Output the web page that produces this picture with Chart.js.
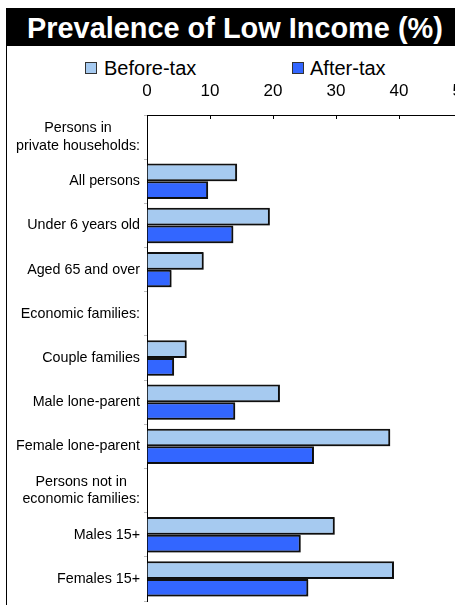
<!DOCTYPE html>
<html>
<head>
<meta charset="utf-8">
<script src="https://cdn.jsdelivr.net/npm/chart.js@4"></script>
<style>
  html,body{margin:0;padding:0;background:#fff;overflow:hidden;}
  #wrap{position:absolute;left:0;top:0;width:455px;height:605px;overflow:hidden;background:#fff;}
  #title{position:absolute;left:6px;top:8px;width:470px;height:38px;background:#000;}
  #title span{position:absolute;left:21px;top:6px;color:#fff;font:bold 28.9px Arial,"Liberation Sans",sans-serif;line-height:1;white-space:nowrap;}
  #frame{position:absolute;left:6px;top:8px;width:1px;height:600px;background:#000;}
  .lg{position:absolute;top:58px;font:20px Arial,"Liberation Sans",sans-serif;line-height:1;color:#000;white-space:nowrap;}
  .box{position:absolute;top:62px;width:10px;height:10px;border:1px solid #333;}
  #cw{position:absolute;left:0;top:46px;width:485px;height:559px;}
</style>
</head>
<body>
<div id="wrap">
  <div id="frame"></div>
  <div id="title"><span>Prevalence of Low Income (%)</span></div>
  <div class="box" id="b1" style="left:85px;"></div>
  <div class="lg" id="l1" style="left:104px;"></div>
  <div class="box" id="b2" style="left:292px;"></div>
  <div class="lg" id="l2" style="left:310px;"></div>
  <div id="cw"><canvas id="c" width="485" height="559"></canvas></div>
</div>
<script>
const categories = [
  ["Persons in", "private households:"],
  "All persons",
  "Under 6 years old",
  "Aged 65 and over",
  "Economic families:",
  "Couple families",
  "Male lone-parent",
  "Female lone-parent",
  ["Persons not in", "economic families:"],
  "Males 15+",
  "Females 15+"
];
const seriesNames = ["Before-tax", "After-tax"];
const beforeTax = [null, 14.3, 19.5, 9.0, null, 6.3, 21.1, 38.6, null, 29.8, 39.2];
const afterTax  = [null, 9.7, 13.7, 3.9, null, 4.3, 14.0, 26.5, null, 24.4, 25.6];
const xTicks = [0, 10, 20, 30, 40, 50];

const colors = ["#A6CAF0", "#3366FF"];
const FONT = 'Arial, "Liberation Sans", sans-serif';

document.getElementById('l1').textContent = seriesNames[0];
document.getElementById('l2').textContent = seriesNames[1];
document.getElementById('b1').style.background = colors[0];
document.getElementById('b2').style.background = colors[1];

const yLabelPlugin = {
  id: 'yLabels',
  afterDraw(chart) {
    const ctx = chart.ctx;
    const ys = chart.scales.y;
    const right = chart.chartArea.left - 7;
    ctx.save();
    ctx.font = '14.3px ' + FONT;
    ctx.fillStyle = '#000';
    ctx.textBaseline = 'middle';
    ctx.textAlign = 'center';
    const lh = 17.7;
    chart.data.labels.forEach((lab, i) => {
      const lines = Array.isArray(lab) ? lab : [lab];
      const y = ys.getPixelForValue(i);
      let maxW = 0;
      lines.forEach(l => { maxW = Math.max(maxW, ctx.measureText(l).width); });
      const cx = right - maxW / 2;
      const y0 = y - (lines.length - 1) * lh / 2;
      lines.forEach((l, k) => ctx.fillText(l, cx, y0 + k * lh));
    });
    // small inner tick marks on the top axis
    const xs = chart.scales.x;
    ctx.strokeStyle = '#000';
    ctx.lineWidth = 1;
    xTicks.forEach(v => {
      if (v === 0) return;
      const x = Math.round(xs.getPixelForValue(v)) + 0.5;
      ctx.beginPath();
      ctx.moveTo(x, chart.chartArea.top);
      ctx.lineTo(x, chart.chartArea.top + 4);
      ctx.stroke();
    });
    ctx.restore();
  }
};

const shadowPlugin = {
  id: 'barShadow',
  beforeDatasetsDraw(chart) {
    const ctx = chart.ctx;
    ctx.save();
    ctx.shadowColor = 'rgba(0,0,0,0.3)';
    ctx.shadowOffsetX = 1;
    ctx.shadowOffsetY = 1;
    ctx.shadowBlur = 0;
  },
  afterDatasetsDraw(chart) {
    chart.ctx.restore();
  }
};

new Chart(document.getElementById('c'), {
  type: 'bar',
  data: {
    labels: categories,
    datasets: [
      { label: seriesNames[0], data: beforeTax, backgroundColor: colors[0], borderColor: '#111', borderWidth: 2, categoryPercentage: 0.8, barPercentage: 1.0 },
      { label: seriesNames[1], data: afterTax, backgroundColor: colors[1], borderColor: '#111', borderWidth: 2, categoryPercentage: 0.8, barPercentage: 1.0 }
    ]
  },
  options: {
    indexAxis: 'y',
    responsive: false,
    animation: false,
    layout: { padding: { left: 0, right: 0, top: 0, bottom: 4 } },
    plugins: { legend: { display: false }, tooltip: { enabled: false }, title: { display: false } },
    scales: {
      x: {
        position: 'top',
        min: xTicks[0], max: xTicks[xTicks.length - 1],
        afterBuildTicks(scale) { scale.ticks = xTicks.map(v => ({ value: v })); },
        ticks: { font: { family: FONT, size: 17 }, color: '#000', padding: 13.5, maxRotation: 0 },
        grid: { drawOnChartArea: false, drawTicks: false },
        border: { color: '#000', width: 1 },
        afterFit(scale) { scale.height = 69; }
      },
      y: {
        ticks: { display: false },
        grid: { drawOnChartArea: false, drawTicks: true, tickLength: 3, color: '#bbb' },
        border: { color: '#000', width: 1 },
        afterFit(scale) { scale.width = 147; }
      }
    }
  },
  plugins: [yLabelPlugin, shadowPlugin]
});
</script>
</body>
</html>
